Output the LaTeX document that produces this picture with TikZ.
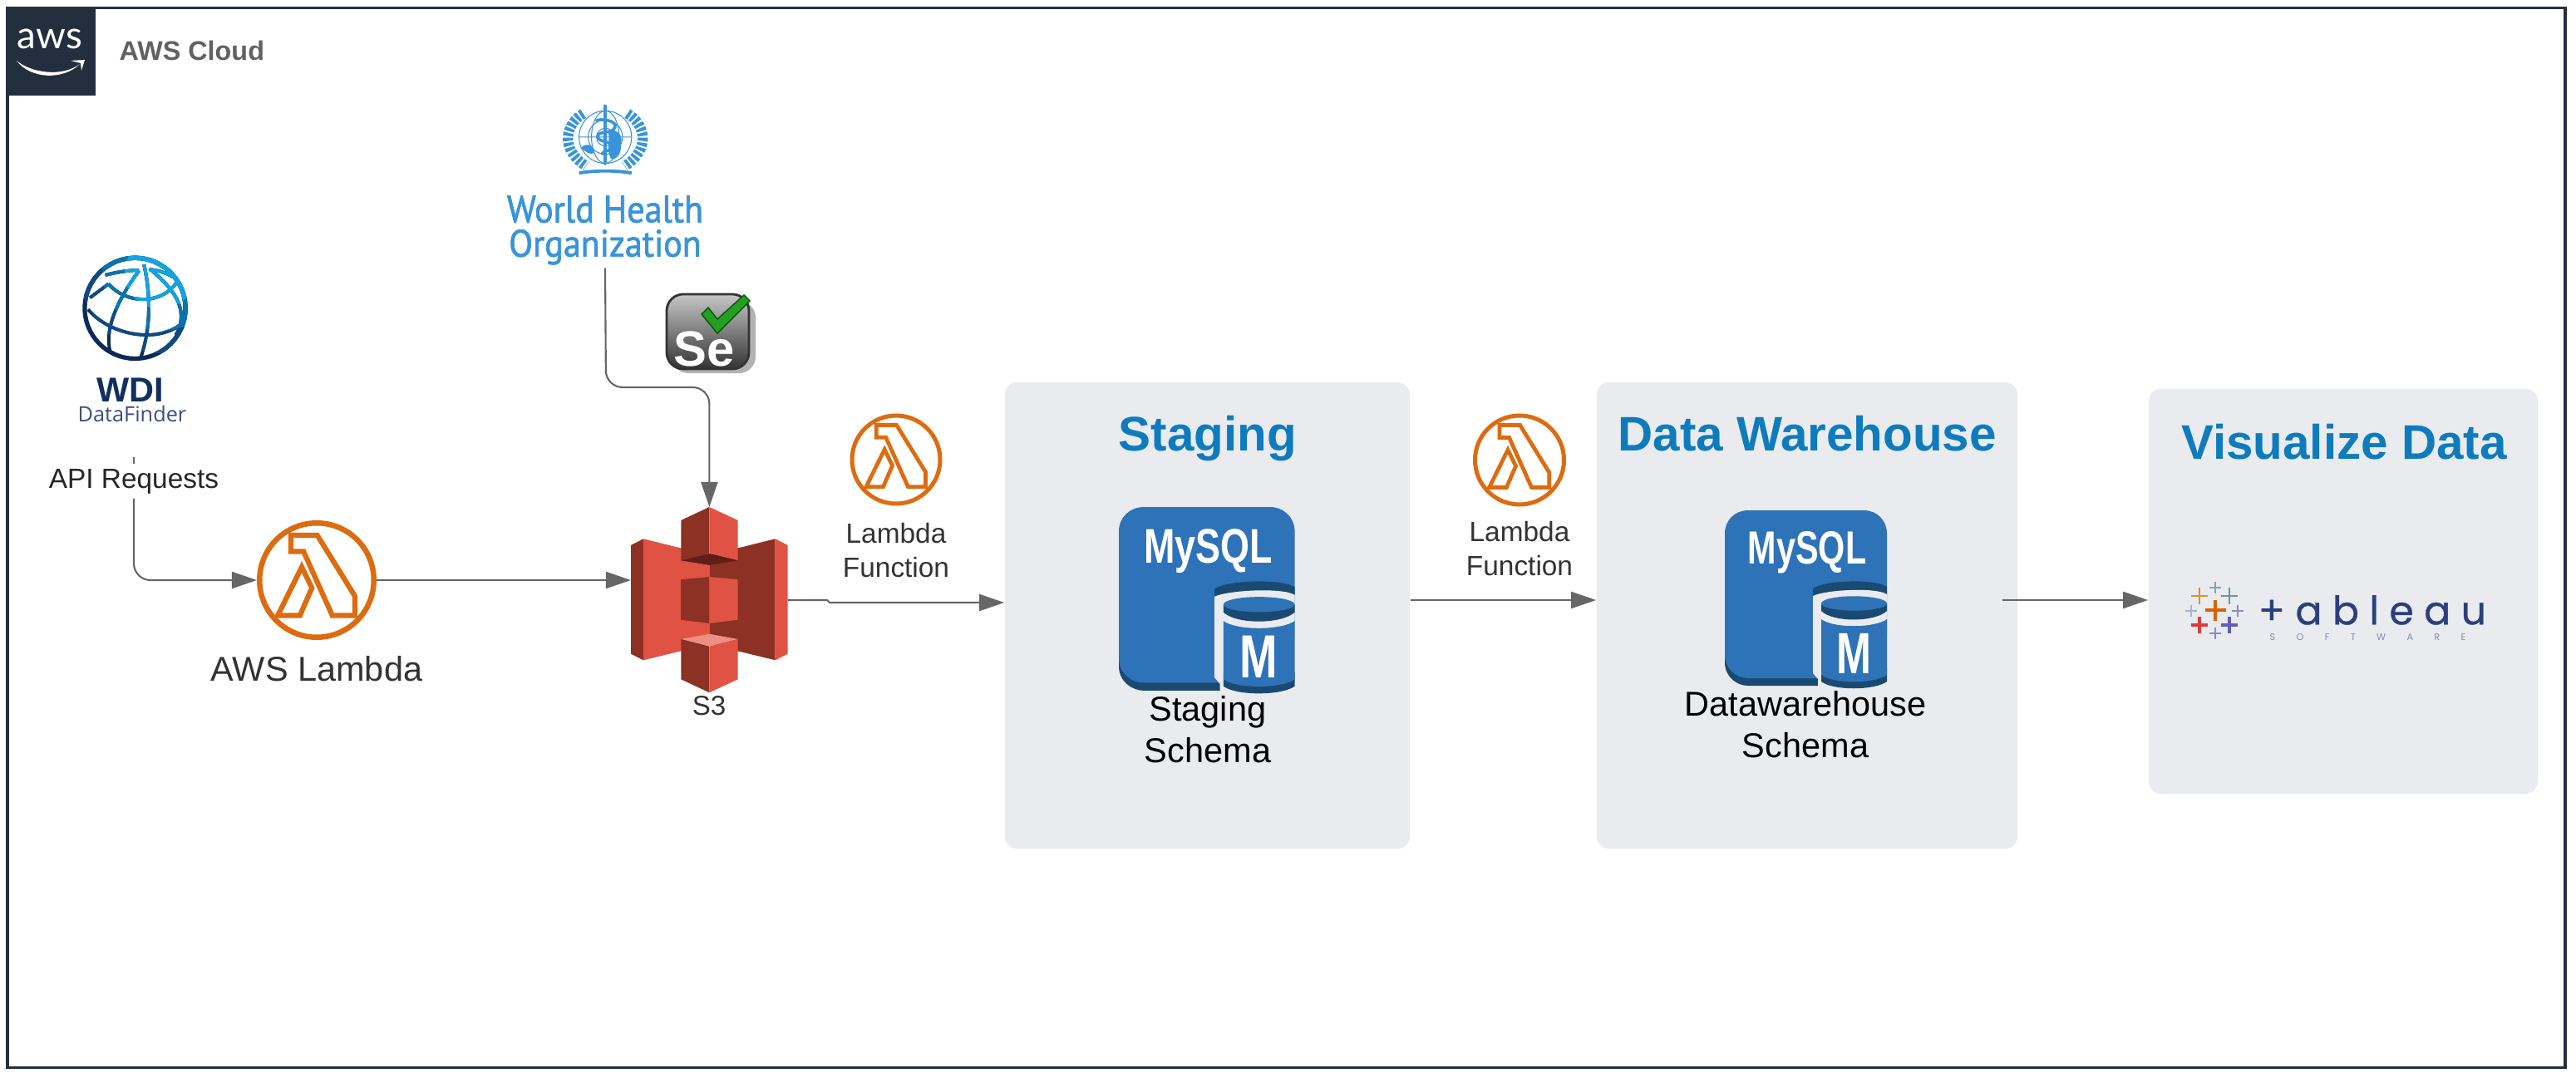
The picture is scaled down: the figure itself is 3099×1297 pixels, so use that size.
\documentclass[tikz,border=0pt]{standalone}
\usepackage{fontspec}
\setmainfont{Liberation Sans}
\newfontfamily\whofont[FakeStretch=0.92,FakeBold=1.6]{PT Sans}
\newfontfamily\awsfont{Lato}
\newfontfamily\wdifont{Open Sans}
\newfontfamily\tabfont[LetterSpace=26,FakeBold=0.6]{Poppins}
\newfontfamily\softfont[LetterSpace=225]{Poppins}
\usetikzlibrary{arrows.meta}

\definecolor{framecol}{HTML}{232F3E}
\definecolor{flowcol}{HTML}{666666}
\definecolor{panelcol}{HTML}{E9EBEF}
\definecolor{titlecol}{HTML}{0E7BBD}
\definecolor{lamcol}{HTML}{DD6B10}
\definecolor{s3red}{HTML}{E05243}
\definecolor{s3dark}{HTML}{8C3123}
\definecolor{s3deep}{HTML}{5E1F18}
\definecolor{s3light}{HTML}{EE8F84}
\definecolor{sqlblue}{HTML}{2E73B8}
\definecolor{sqldark}{HTML}{1A4A72}
\definecolor{whocol}{HTML}{3A94D9}
\definecolor{tabnavy}{HTML}{2B3F7E}
\definecolor{globea}{HTML}{0B2A55}
\definecolor{globeb}{HTML}{0F4A80}
\definecolor{globec}{HTML}{0B74AE}
\definecolor{globed}{HTML}{12A4E0}
\definecolor{wdicol}{HTML}{12305E}
\definecolor{findercol}{HTML}{3C4F7C}

\tikzset{
  flow/.style={draw=flowcol,line width=0.6pt,-{Triangle[length=0.3cm,width=0.2cm]}},
  flowline/.style={draw=flowcol,line width=0.6pt},
  panel/.style={rectangle,fill=panelcol,rounded corners=0.15cm,inner sep=0pt},
  paneltitle/.style={anchor=base,text=titlecol,font=\fontsize{16.6}{20}\selectfont\bfseries},
  iconlabel/.style={align=center,text=black!80,font=\fontsize{9.5}{11.7}\selectfont},
  schemalabel/.style={align=center,text=black,font=\fontsize{11.8}{14.2}\selectfont},
  lamring/.style={circle,draw=lamcol,inner sep=0pt},
  tabletter/.style={anchor=west,text=tabnavy,inner sep=0pt}
}

\newcommand{\lambdaicon}[5]{
  \node[lamring,line width=#5*0.01cm,minimum size={(2*#4-#5)*0.01cm}] (#1) at (#2,#3) {};
  \draw[scale=#4,shift={(#2/#4,#3/#4)},draw=lamcol,line width=#5*0.0095cm,line join=miter]
    (-.43,-.75) -- (.01,-.75) -- (.64,.27) -- (.64,.59) -- (.26,.59) -- (-.22,-.48) -- (-.43,-.48) -- cycle
    (-.25,-.22) -- (-.08,.13) -- (-.28,.59) -- (-.65,.59) -- cycle;
}

\newcommand{\mysqlicon}[5]{
  \begin{scope}[shift={(#2,#3)},xscale=#4,yscale=#5,every node/.append style={transform shape}]
    \fill[sqldark] (0,140) -- (0,183) .. controls (0,200) and (14,211) .. (28,211) -- (113,211) -- (113,140) -- cycle;
    \fill[sqlblue] (0,28) .. controls (0,12) and (12,0) .. (28,0) -- (167,0) .. controls (183,0) and (195,12) .. (195,28)
      -- (195,150) -- (113,202) -- (28,202) .. controls (14,202) and (0,191) .. (0,174) -- cycle;
    \fill[sqldark] (106,94) .. controls (120,84) and (180,82) .. (195,92) -- (195,101) .. controls (180,92) and (120,96) .. (106,103) -- cycle;
    \fill[panelcol] (106,103) .. controls (120,96) and (180,92) .. (195,101) -- (195,216) -- (112,216) -- (112,203) -- (106,196) -- cycle;
    \fill[sqldark] (116,190) -- (116,206) .. controls (130,217) and (180,217) .. (195,206) -- (195,190) -- cycle;
    \fill[sqlblue] (116,131) .. controls (130,142) and (180,142) .. (195,131) -- (195,198) .. controls (180,209) and (130,209) .. (116,198) -- cycle;
    \fill[sqldark] (116,112) -- (116,121) .. controls (130,135) and (180,135) .. (195,121) -- (195,112) -- cycle;
    \fill[sqlblue] (155.5,112) ellipse [x radius=39.5,y radius=8.7];
    \node[anchor=base,text=white,inner sep=0pt,font=\fontsize{15.9}{18}\selectfont\bfseries] (#1name) at (99,64) {\scalebox{.74}[1]{MySQL}};
    \node[anchor=base,text=white,inner sep=0pt,font=\fontsize{19.9}{22}\selectfont\bfseries] (#1m) at (155,196) {\scalebox{.72}[1]{M}};
  \end{scope}
}

\newcommand{\tabplus}[5]{
  \draw[#4,line width=#5] ({#1-#3},#2) -- ({#1+#3},#2) (#1,{#2-#3}) -- (#1,{#2+#3});
}

\newcommand{\globelines}[1]{
  \draw[#1,line width=1.5pt] (248,228) circle[radius=182];
  \draw[#1,line width=1.1pt] (280,70) .. controls (305,180) and (305,300) .. (268,408);
  \draw[#1,line width=1.1pt] (262,92) .. controls (190,190) and (135,300) .. (158,385);
  \draw[#1,line width=1.1pt] (300,85) .. controls (380,150) and (450,230) .. (395,325);
  \draw[#1,line width=1.1pt] (152,140) .. controls (210,210) and (340,220) .. (398,135);
  \draw[#1,line width=1.1pt] (78,232) .. controls (150,320) and (320,360) .. (415,285);
  \draw[#1,line width=1.1pt] (140,108) .. controls (190,95) and (240,90) .. (262,90);
  \draw[#1,line width=1.1pt] (300,88) .. controls (330,90) and (360,100) .. (385,115);
  \draw[#1,line width=1.1pt] (152,140) -- (85,190);
}

\begin{document}
\begin{tikzpicture}[x=0.01cm,y=-0.01cm]
  \useasboundingbox (0,0) rectangle (3099,1297);

  \draw[framecol,line width=1pt] (9,9.5) rectangle (3086,1284.5);
  \fill[framecol] (7,8) rectangle (115,115);
  \node[anchor=base,text=white,inner sep=0pt,font=\awsfont\fontsize{13}{15}\selectfont] (awstext) at (60,59) {aws};
  \fill[white] (20,73) .. controls (38,88) and (75,93) .. (96,77) .. controls (76,97) and (36,95) .. cycle;
  \fill[white] (85,73) -- (102,72) -- (98,85) -- (97,76) -- cycle;
  \node[anchor=base west,inner sep=0pt,text=black!62,font=\fontsize{9.2}{11}\selectfont\bfseries] (cloud) at (143,73) {AWS Cloud};

  \begin{scope}[shift={(80,295)},x=0.00333cm,y=-0.00333cm]
    \globelines{globea}
    \begin{scope}
      \clip (340,100) circle[radius=290];
      \globelines{globeb}
    \end{scope}
    \begin{scope}
      \clip (340,100) circle[radius=210];
      \globelines{globec}
    \end{scope}
    \begin{scope}
      \clip (340,100) circle[radius=130];
      \globelines{globed}
    \end{scope}
  \end{scope}
  \node[anchor=base,inner sep=0pt,text=wdicol,font=\fontsize{11.8}{13}\selectfont\bfseries] (wdi) at (157,483) {WDI};
  \node[anchor=base,inner sep=0pt,text=findercol,font=\wdifont\fontsize{7.2}{8}\selectfont] (finder) at (159,507) {DataFinder};

  \begin{scope}[shift={(660,115)},x=0.00333cm,y=-0.00333cm,whocol]
    \draw[line width=0.3pt] (205,150) circle[radius=95] (205,150) circle[radius=62] (205,150) circle[radius=32];
    \draw[line width=0.3pt] (110,150) -- (300,150) (205,150) ellipse [x radius=50,y radius=95];
    \draw[line width=3.5pt,dash pattern=on 1.1pt off 0.6pt] (125,65) .. controls (65,100) and (35,190) .. (135,255);
    \draw[line width=3.5pt,dash pattern=on 1.1pt off 0.6pt] (285,65) .. controls (345,100) and (375,190) .. (275,255);
    \draw[line width=1.1pt] (110,280) .. controls (170,270) and (240,270) .. (300,280);
    \fill (115,190) .. controls (135,170) and (165,175) .. (165,205) .. controls (150,220) and (135,200) .. cycle;
    \fill (215,130) .. controls (240,115) and (270,140) .. (262,170) .. controls (265,210) and (245,235) .. (225,228) .. controls (205,190) and (225,160) .. cycle;
    \draw[line width=1.2pt,line cap=round] (205,38) -- (205,245);
    \draw[line width=1pt] (170,92) .. controls (185,80) and (250,90) .. (240,115) .. controls (230,140) and (175,125) .. (178,150) .. controls (180,170) and (235,165) .. (232,185) .. controls (228,205) and (190,195) .. (195,215);
  \end{scope}
  \node[align=center,inner sep=1pt,text=whocol,font=\whofont\fontsize{13}{11.7}\selectfont] (who) at (728,277) {World Health\\Organization};

  \fill[black!30,rounded corners=0.2cm] (808,362) rectangle (909,449);
  \shade[top color=black!22,bottom color=black!80,draw=black!80,line width=0.8pt,rounded corners=0.2cm] (802,354) rectangle (901,444);
  \node[anchor=base west,inner sep=0pt,text=white,font=\fontsize{17}{20}\selectfont\bfseries] (se) at (810,440) {Se};
  \fill[green!55!black!85,draw=green!35!black,line width=0.4pt] (844,378) -- (852,370) -- (863,384) -- (895,355) -- (902,362) -- (863,401) -- cycle;

  \coordinate (apistart) at (161,550);
  \node[inner sep=0pt,minimum height=0.4cm,text=black!85,font=\fontsize{9.5}{11}\selectfont] (api) at (161,579) {API Requests};
  \draw[flowline] (apistart) -- (api.north);

  \lambdaicon{lam1}{381}{698}{72}{6.5}
  \node[anchor=base,inner sep=0pt,text=black!80,font=\fontsize{11.8}{14}\selectfont] (lamtext) at (381,819) {AWS Lambda};
  \draw[flow,rounded corners=0.2cm] (api.south) -- (161,698) -- (lam1.west);

  \fill[s3dark] (759,656) -- (774,648.3) -- (774,794.3) -- (759,786.7) -- cycle;
  \fill[s3red] (774,648.3) -- (853.3,668) -- (853.3,775) -- (774,794.3) -- cycle;
  \fill[s3dark] (932.7,648.3) -- (853.3,668) -- (853.3,775) -- (932.7,794.3) -- cycle;
  \fill[s3red] (932.7,648.3) -- (947.7,656) -- (947.7,786.7) -- (932.7,794.3) -- cycle;
  \fill[s3dark] (853.3,610) -- (819.3,626) -- (819.3,674.3) -- (853.3,666) -- cycle;
  \fill[s3red] (853.3,610) -- (887.7,626) -- (887.7,674.3) -- (853.3,666) -- cycle;
  \fill[s3deep] (819.3,674.3) -- (853.3,666) -- (887.7,674.3) -- (853.3,680) -- cycle;
  \fill[s3dark] (819,697.3) -- (853.3,694) -- (853.3,750) -- (819,745.7) -- cycle;
  \fill[s3red] (853.3,694) -- (887.7,697.3) -- (887.7,745.7) -- (853.3,750) -- cycle;
  \fill[s3light] (819.3,769) -- (853.3,762.7) -- (887.7,769) -- (853.3,777.7) -- cycle;
  \fill[s3dark] (819.3,769) -- (853.3,777.7) -- (853.3,833.3) -- (819.3,817.3) -- cycle;
  \fill[s3red] (853.3,777.7) -- (887.7,769) -- (887.7,817.3) -- (853.3,833.3) -- cycle;
  \node[inner sep=0pt,outer sep=0pt,minimum width=1.887cm,minimum height=2.233cm] (s3) at (853.4,721.7) {};
  \node[anchor=base,inner sep=0pt,text=black!80,font=\fontsize{9.4}{11}\selectfont] (s3text) at (853,860) {S3};

  \node[panel,minimum width=4.87cm,minimum height=5.61cm] (staging) at (1452.5,740.5) {};
  \node[panel,minimum width=5.06cm,minimum height=5.61cm] (dw) at (2174,740.5) {};
  \node[panel,minimum width=4.68cm,minimum height=4.87cm] (vis) at (2819,711.5) {};
  \node[paneltitle] (stagingtitle) at (1453,542) {Staging};
  \node[paneltitle] (dwtitle) at (2174,542) {Data Warehouse};
  \node[paneltitle] (vistitle) at (2820,552) {Visualize Data};

  \lambdaicon{lam2}{1078}{553}{55.5}{5}
  \lambdaicon{lam3}{1828}{553.5}{56}{5}
  \node[iconlabel] (lam2text) at (1078,662) {Lambda\\Function};
  \node[iconlabel] (lam3text) at (1828,660) {Lambda\\Function};

  \mysqlicon{sqla}{1346}{610}{1.085}{1.047}
  \mysqlicon{sqlb}{2075}{614}{1}{1}
  \node[schemalabel] (stagingtext) at (1453,878) {Staging\\Schema};
  \node[schemalabel] (dwtext) at (2172,872) {Datawarehouse\\Schema};

  \coordinate (rowa) at (0,722);
  \coordinate (joga) at (995,722);
  \coordinate (jogb) at (998,725);
  \coordinate (dwout) at (2409,722);
  \draw[flow,rounded corners=0.2cm] (who.south) -- (729,466) -- (853.4,466) -- (s3.north);
  \draw[flow] (lam1.east) -- (s3.west |- lam1.east);
  \draw[flow] (s3.east |- rowa) -- (joga) -- (jogb) -- (staging.west |- jogb);
  \draw[flow] (staging.east |- rowa) -- (dw.west |- rowa);
  \draw[flow] (dwout) -- (vis.west |- dwout);

  \tabplus{2665}{707}{7}{teal!45!gray!70}{0.7pt}
  \tabplus{2646}{717}{10}{orange!80!yellow!75!gray}{0.8pt}
  \tabplus{2682}{717}{10}{teal!50!gray!80}{0.8pt}
  \tabplus{2636}{735}{7}{cyan!30!gray!70}{0.7pt}
  \tabplus{2665}{734}{12.5}{orange!90!red!85!black}{1.1pt}
  \tabplus{2692}{735}{7}{blue!30!gray!70}{0.7pt}
  \tabplus{2646}{752}{10}{red!70!gray!90}{0.9pt}
  \tabplus{2682}{752}{10}{blue!40!gray!90}{0.9pt}
  \tabplus{2665}{762}{7}{blue!30!gray!70}{0.7pt}
  \node[tabletter,font=\tabfont\fontsize{13.5}{15}\selectfont] (tabword) at (2716,734) {+ableau};
  \node[tabletter,text=tabnavy!60,font=\softfont\fontsize{3.2}{4}\selectfont] (tabsoft) at (2730,767) {SOFTWARE};
\end{tikzpicture}
\end{document}
